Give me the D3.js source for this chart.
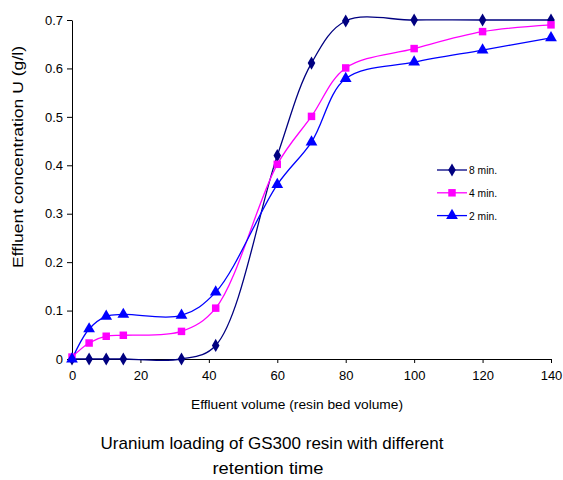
<!DOCTYPE html>
<html><head><meta charset="utf-8">
<script src="https://cdn.jsdelivr.net/npm/d3@7"></script>
<style>body{margin:0;background:#fff}</style>
</head><body>
<script>
const volumes = [0, 5, 10, 15, 32, 42, 60, 70, 80, 100, 120, 140];
const series8 = [0, 0, 0, 0, 0, 0.028, 0.42, 0.611, 0.698, 0.7, 0.7, 0.7];
const series4 = [0.004, 0.033, 0.047, 0.049, 0.057, 0.105, 0.402, 0.501, 0.601, 0.641, 0.676, 0.69];
const series2 = [0, 0.062, 0.088, 0.092, 0.09, 0.138, 0.36, 0.448, 0.579, 0.613, 0.638, 0.663];
const seriesNames = ["8 min.", "4 min.", "2 min."];
const xTicks = [0, 20, 40, 60, 80, 100, 120, 140];
const yTicks = [0, 0.1, 0.2, 0.3, 0.4, 0.5, 0.6, 0.7];

const W = 563, H = 480;
const svg = d3.select("body").append("svg").attr("width", W).attr("height", H)
  .style("font-family", "Liberation Sans, Arial, sans-serif");

const x = d3.scaleLinear().domain([0, 140]).range([72, 551]);
const y = d3.scaleLinear().domain([0, 0.7]).range([359, 20]);

const xAxis = svg.append("g").attr("transform", "translate(0,359)")
  .call(d3.axisBottom(x).tickValues(xTicks).tickSize(4).tickSizeOuter(0).tickFormat(d3.format("d")));
const yAxis = svg.append("g").attr("transform", "translate(72,0)")
  .call(d3.axisLeft(y).tickValues(yTicks).tickSize(5).tickSizeOuter(0).tickFormat(d => d === 0 ? "0" : d3.format(".1f")(d)));
[xAxis, yAxis].forEach(a => {
  a.selectAll("path,line").attr("stroke", "#000").attr("stroke-width", 1);
  a.selectAll("text").attr("fill", "#000").style("font-size", "13px").style("font-family", "Liberation Sans, Arial, sans-serif");
});
xAxis.selectAll("text").attr("dy", "1.05em");
yAxis.selectAll("text").attr("x", -9);

const colors = ["#000080", "#FF00FF", "#0000FF"];
const data = [series8, series4, series2];
const line = d3.line().x((d, i) => x(volumes[i])).y(d => y(d)).curve(d3.curveCatmullRom.alpha(0.5));

const sym = [d3.symbolDiamond, d3.symbolSquare, d3.symbolTriangle];
const symSize = [50, 56, 60];

data.forEach((s, k) => {
  svg.append("path").datum(s).attr("d", line).attr("fill", "none")
    .attr("stroke", colors[k]).attr("stroke-width", 1.3);
});
data.forEach((s, k) => {
  svg.append("g").selectAll("path").data(s).join("path")
    .attr("transform", (d, i) => `translate(${x(volumes[i])},${y(d)})`)
    .attr("d", d3.symbol(sym[k], symSize[k]))
    .attr("fill", colors[k]);
});

// legend
const leg = svg.append("g");
seriesNames.forEach((n, k) => {
  const yy = 170 + k * 22.8;
  leg.append("line").attr("x1", 437).attr("x2", 467).attr("y1", yy).attr("y2", yy)
    .attr("stroke", colors[k]).attr("stroke-width", 1.3);
  leg.append("path").attr("transform", `translate(452,${yy})`)
    .attr("d", d3.symbol(sym[k], symSize[k])).attr("fill", colors[k]);
  leg.append("text").attr("x", 469).attr("y", yy + 4).text(n)
    .style("font-size", "11px").attr("textLength", 28).attr("lengthAdjust", "spacingAndGlyphs");
});

svg.append("text").attr("x", 297).attr("y", 409).attr("text-anchor", "middle")
  .style("font-size", "13.5px").text("Effluent volume (resin bed volume)")
  .attr("textLength", 212).attr("lengthAdjust", "spacingAndGlyphs");

svg.append("text").attr("transform", "translate(23,157) rotate(-90)").attr("text-anchor", "middle")
  .style("font-size", "14px").text("Effluent concentration U (g/l)")
  .attr("textLength", 222).attr("lengthAdjust", "spacingAndGlyphs");

svg.append("text").attr("x", 272).attr("y", 449).attr("text-anchor", "middle")
  .style("font-size", "17px").text("Uranium loading of GS300 resin with different")
  .attr("textLength", 343).attr("lengthAdjust", "spacingAndGlyphs");
svg.append("text").attr("x", 268).attr("y", 474).attr("text-anchor", "middle")
  .style("font-size", "17px").text("retention time")
  .attr("textLength", 111).attr("lengthAdjust", "spacingAndGlyphs");
</script>
</body></html>
